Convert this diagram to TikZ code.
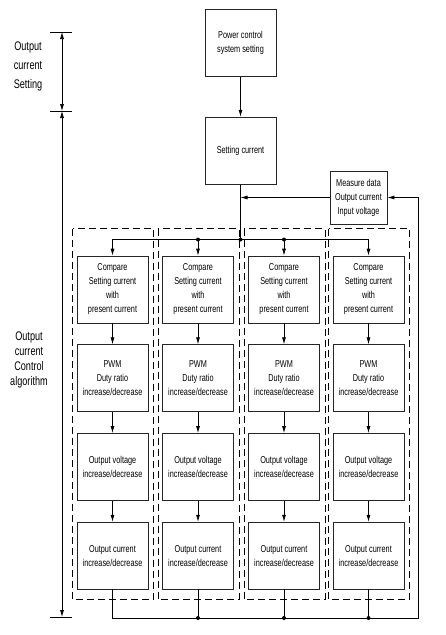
\documentclass[tikz,border=0pt]{standalone}
\usepackage{fontspec}
\setmainfont{Liberation Sans}[FakeStretch=0.73]
\usetikzlibrary{arrows.meta,chains,positioning}
\tikzstyle{block}=[draw=black!85,minimum width=71pt,minimum height=67pt,align=center,inner sep=1pt,font=\fontsize{10}{14}\selectfont]
\tikzstyle{small}=[minimum width=57pt,minimum height=53pt]
\tikzstyle{group}=[draw,dash pattern=on 7pt off 4pt]
\tikzstyle{arr}=[-{Latex[length=7pt,width=4pt]}]
\tikzstyle{dim}=[{Latex[length=7pt,width=4pt]}-{Latex[length=7pt,width=4pt]}]
\tikzstyle{side}=[align=center,font=\fontsize{12.5}{19}\selectfont]
\tikzstyle{dot}=[circle,fill,inner sep=0pt,minimum size=4pt]

\begin{document}
\begin{tikzpicture}[x=1pt,y=-1pt,line width=0.7pt]
\useasboundingbox (0,0) rectangle (445,635);

\node [block] (pow) at (240.5,43) {Power control\\system setting};
\node [block,below=40pt of pow] (set) {Setting current};
\node [block,small] (meas) at (358.5,197.5) {Measure data\\Output current\\Input voltage};

\begin{scope}[start chain=1 going below, node distance=21pt]
    \node [on chain=1,block] (cmp1) at (112.5,289.5) {Compare\\Setting current\\with\\present current};
    \node [on chain=1,block] (pwm1) {PWM\\Duty ratio\\increase/decrease};
    \node [on chain=1,block] (vol1) {Output voltage\\increase/decrease};
    \node [on chain=1,block] (cur1) {Output current\\increase/decrease};
\end{scope}
\begin{scope}[start chain=2 going below, node distance=21pt]
    \node [on chain=2,block] (cmp2) at (198,289.5) {Compare\\Setting current\\with\\present current};
    \node [on chain=2,block] (pwm2) {PWM\\Duty ratio\\increase/decrease};
    \node [on chain=2,block] (vol2) {Output voltage\\increase/decrease};
    \node [on chain=2,block] (cur2) {Output current\\increase/decrease};
\end{scope}
\begin{scope}[start chain=3 going below, node distance=21pt]
    \node [on chain=3,block] (cmp3) at (284,289.5) {Compare\\Setting current\\with\\present current};
    \node [on chain=3,block] (pwm3) {PWM\\Duty ratio\\increase/decrease};
    \node [on chain=3,block] (vol3) {Output voltage\\increase/decrease};
    \node [on chain=3,block] (cur3) {Output current\\increase/decrease};
\end{scope}
\begin{scope}[start chain=4 going below, node distance=21pt]
    \node [on chain=4,block] (cmp4) at (368.5,289.5) {Compare\\Setting current\\with\\present current};
    \node [on chain=4,block] (pwm4) {PWM\\Duty ratio\\increase/decrease};
    \node [on chain=4,block] (vol4) {Output voltage\\increase/decrease};
    \node [on chain=4,block] (cur4) {Output current\\increase/decrease};
\end{scope}

% dashed groups
\draw [group] ([xshift=-4pt,yshift=27pt]cmp1.north west) rectangle ([xshift=5pt,yshift=-10pt]cur1.south east);
\draw [group] ([xshift=-4pt,yshift=27pt]cmp2.north west) rectangle ([xshift=5pt,yshift=-10pt]cur2.south east);
\draw [group] ([xshift=-4pt,yshift=27pt]cmp3.north west) rectangle ([xshift=5pt,yshift=-10pt]cur3.south east);
\draw [group] ([xshift=-4pt,yshift=27pt]cmp4.north west) rectangle ([xshift=5pt,yshift=-10pt]cur4.south east);

\draw [arr] (pow) -- (set);
\draw [arr] (cmp1) -- (pwm1);
\draw [arr] (pwm1) -- (vol1);
\draw [arr] (vol1) -- (cur1);
\draw [arr] (cmp2) -- (pwm2);
\draw [arr] (pwm2) -- (vol2);
\draw [arr] (vol2) -- (cur2);
\draw [arr] (cmp3) -- (pwm3);
\draw [arr] (pwm3) -- (vol3);
\draw [arr] (vol3) -- (cur3);
\draw [arr] (cmp4) -- (pwm4);
\draw [arr] (pwm4) -- (vol4);
\draw [arr] (vol4) -- (cur4);

% setting current to the four loops
\path (set.south) ++(0,55) coordinate (bus);
\draw (set.south) -- (bus);
\draw [arr] (bus) -| (cmp1.north);
\draw [arr] (bus) -| (cmp4.north);
\draw [arr] (cmp2.north |- bus) -- (cmp2.north);
\draw [arr] (cmp3.north |- bus) -- (cmp3.north);
\node [dot] (b0) at (bus) {};
\node [dot] (b2) at (cmp2.north |- bus) {};
\node [dot] (b3) at (cmp3.north |- bus) {};

% feedback
\coordinate (fb) at (418,618);
\draw [arr] (cur1.south) |- (fb) |- (meas.east);
\draw (cur2.south) -- (cur2.south |- fb);
\draw (cur3.south) -- (cur3.south |- fb);
\draw (cur4.south) -- (cur4.south |- fb);
\node [dot] (f2) at (cur2.south |- fb) {};
\node [dot] (f3) at (cur3.south |- fb) {};
\node [dot] (f4) at (cur4.south |- fb) {};
\draw [arr] (meas.west) -- (meas.west -| set.south);

% left side
\coordinate (t1) at (62,32);
\coordinate (t2) at (62,111);
\coordinate (t3) at (62,617);
\draw ([xshift=-12pt]t1) -- ([xshift=10pt]t1);
\draw ([xshift=-12pt]t2) -- ([xshift=10pt]t2);
\draw ([xshift=-12pt]t3) -- ([xshift=10pt]t3);
\draw [dim] (t1) -- (t2);
\draw [dim] (t2) -- (t3);
\node [side] (lab1) at (28,66) {Output\\current\\Setting};
\node [side,font=\fontsize{12.5}{15}\selectfont] (lab2) at (29,360) {Output\\current\\Control\\algorithm};
\end{tikzpicture}
\end{document}
